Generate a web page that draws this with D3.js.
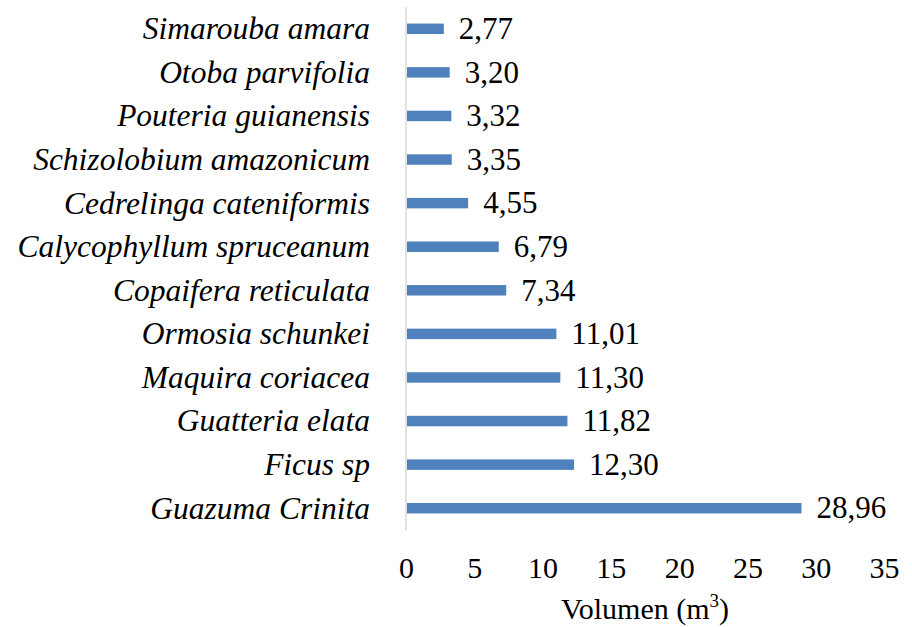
<!DOCTYPE html>
<html>
<head>
<meta charset="utf-8">
<script src="https://cdn.jsdelivr.net/npm/d3@7"></script>
<style>
  body { margin: 0; background: #fff; }
</style>
</head>
<body>
<div id="chart"></div>
<script>
// Data
const species = [
    'Simarouba amara', 'Otoba parvifolia', 'Pouteria guianensis', 'Schizolobium amazonicum',
    'Cedrelinga cateniformis', 'Calycophyllum spruceanum', 'Copaifera reticulata',
    'Ormosia schunkei', 'Maquira coriacea', 'Guatteria elata', 'Ficus sp', 'Guazuma Crinita'
];
const volumes = [2.77, 3.20, 3.32, 3.35, 4.55, 6.79, 7.34, 11.01, 11.30, 11.82, 12.30, 28.96];
const xTicks = [0, 5, 10, 15, 20, 25, 30, 35];

const serif = '"Liberation Serif"';
const fontSize = '30px';
const width = 912, height = 627;
const margin = { top: 7, left: 406, right: 28, bottom: 97 };

const svg = d3.select('#chart').append('svg')
    .attr('width', width)
    .attr('height', height);

const x = d3.scaleLinear()
    .domain([0, 35])
    .range([margin.left, width - margin.right]);

const y = d3.scaleBand()
    .domain(species)
    .range([margin.top, height - margin.bottom])
    .paddingInner(0.76)
    .paddingOuter(0.38);

// vertical axis line
svg.append('line')
    .attr('x1', x(0)).attr('x2', x(0))
    .attr('y1', margin.top).attr('y2', height - margin.bottom)
    .attr('stroke', '#d9d9d9')
    .attr('stroke-width', 1.5);

const rows = species.map((s, i) => ({ name: s, value: volumes[i] }));

// bars
svg.selectAll('.bar')
    .data(rows)
    .join('rect')
    .attr('class', 'bar')
    .attr('x', x(0) + 1)
    .attr('y', d => y(d.name))
    .attr('width', d => x(d.value) - x(0) - 1)
    .attr('height', y.bandwidth())
    .attr('fill', '#4f81bd');

// value labels
svg.selectAll('.val')
    .data(rows)
    .join('text')
    .attr('class', 'val')
    .attr('x', d => x(d.value) + 15)
    .attr('y', d => y(d.name) + y.bandwidth() / 2)
    .attr('dy', '0.33em')
    .style('font-family', serif)
    .style('font-size', '31px')
    .style('fill', '#000')
    .text(d => d.value.toFixed(2).replace('.', ','));

// category labels
svg.selectAll('.cat')
    .data(species)
    .join('text')
    .attr('class', 'cat')
    .attr('x', 370)
    .attr('y', d => y(d) + y.bandwidth() / 2)
    .attr('dy', '0.33em')
    .attr('text-anchor', 'end')
    .style('font-family', serif)
    .style('font-size', '31.5px')
    .style('font-style', 'italic')
    .style('fill', '#000')
    .text(d => d);

// x axis (tick labels only)
const xAxis = svg.append('g')
    .attr('transform', `translate(0, ${height - margin.bottom})`)
    .call(d3.axisBottom(x).tickValues(xTicks).tickSize(0).tickPadding(27));
xAxis.select('.domain').remove();
xAxis.selectAll('text')
    .style('font-family', serif)
    .style('font-size', fontSize)
    .style('fill', '#000');

// axis title
const title = svg.append('text')
    .attr('x', (x(0) + x(35)) / 2)
    .attr('y', 619)
    .attr('text-anchor', 'middle')
    .style('font-family', serif)
    .style('font-size', fontSize)
    .style('fill', '#000');
title.append('tspan').text('Volumen (m');
title.append('tspan').style('font-size', '19px').attr('dy', -12).text('3');
title.append('tspan').attr('dy', 12).text(')');
</script>
</body>
</html>
